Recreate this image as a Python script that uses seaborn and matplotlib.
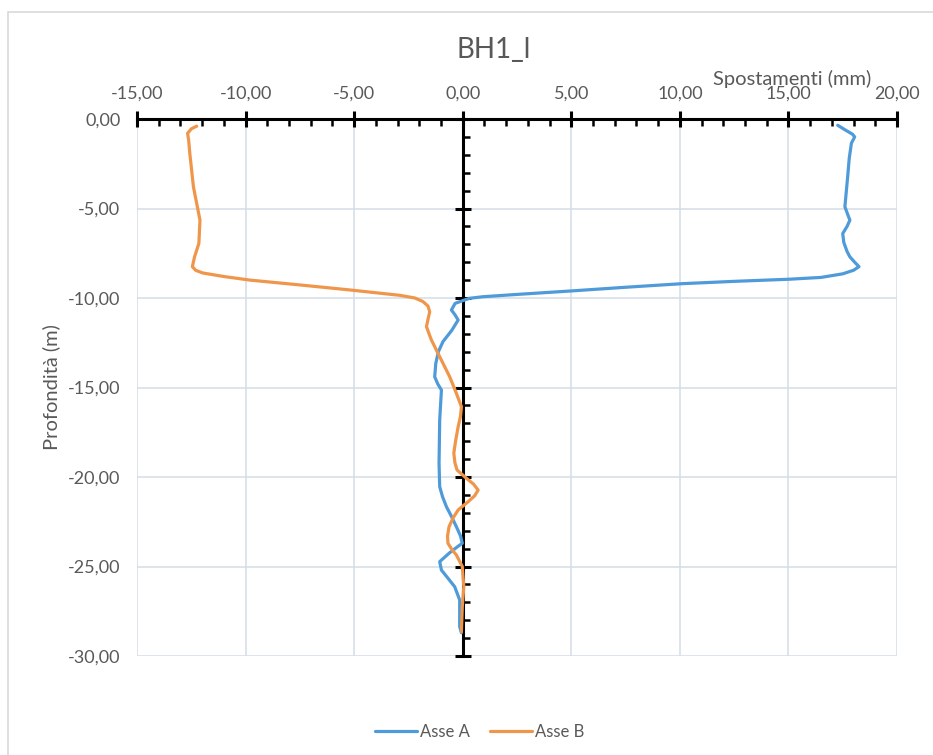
import numpy as np
import pandas as pd
import matplotlib
matplotlib.use("Agg")
import matplotlib.pyplot as plt
from matplotlib.patches import Rectangle
from matplotlib.ticker import MultipleLocator, FuncFormatter
import seaborn as sns

# Inclinometer profile BH1_l: displacement (mm) versus depth (m)
depth_a = [-0.35, -0.6, -0.85, -1.0, -1.35, -2.2, -3.2, -4.9, -5.3, -5.65, -6.0, -6.4,
           -6.9, -7.4, -7.7, -8.0, -8.25, -8.45, -8.65, -8.85, -8.95, -9.07, -9.2,
           -9.4, -9.6, -9.8, -9.93, -10.02, -10.11, -10.3, -10.67, -10.95, -11.23,
           -11.8, -12.44, -13.0, -13.65, -14.4, -14.8, -15.14, -16.82, -19.24,
           -20.54, -21.1, -21.66, -22.2, -22.78, -23.3, -23.7, -23.95, -24.23,
           -24.73, -25.2, -25.7, -26.13, -26.87, -28.36, -28.7]
asse_a = [17.27, 17.6, 17.95, 18.05, 17.9, 17.8, 17.73, 17.6, 17.72, 17.83, 17.7, 17.5,
          17.55, 17.7, 17.83, 18.05, 18.25, 18.0, 17.5, 16.5, 15.06, 12.5, 10.1,
          7.5, 5.07, 2.5, 0.92, 0.3, 0.09, -0.35, -0.52, -0.35, -0.21,
          -0.5, -0.91, -1.12, -1.24, -1.29, -1.15, -0.98, -1.06, -1.09,
          -1.06, -0.93, -0.75, -0.52, -0.29, -0.1, -0.02, -0.3, -0.6,
          -1.06, -0.98, -0.65, -0.37, -0.14, -0.14, -0.06]

depth_b = [-0.4, -0.55, -0.8, -1.2, -1.9, -3.8, -5.65, -6.95, -7.7, -8.25, -8.45, -8.6,
           -8.8, -9.0, -9.27, -9.55, -9.85, -10.0, -10.2, -10.45, -10.77, -11.2,
           -11.6, -12.0, -12.35, -13.28, -14.4, -15.3, -16.07, -16.6, -17.19,
           -18.0, -18.67, -19.2, -19.61, -20.07, -20.4, -20.73, -21.05, -21.38,
           -21.84, -22.3, -22.78, -23.3, -23.7, -24.05, -24.36, -25.0, -26.13,
           -27.25, -28.64]
asse_b = [-12.25, -12.5, -12.67, -12.62, -12.57, -12.4, -12.1, -12.15, -12.35, -12.45, -12.3, -11.98,
          -11.0, -9.8, -7.5, -5.2, -2.9, -2.2, -1.83, -1.6, -1.52, -1.6,
          -1.67, -1.55, -1.44, -1.06, -0.6, -0.3, -0.06, -0.1, -0.21,
          -0.33, -0.41, -0.36, -0.26, 0.17, 0.5, 0.71, 0.55, 0.25,
          -0.21, -0.45, -0.63, -0.7, -0.68, -0.5, -0.29, -0.02, 0.05,
          -0.02, -0.06]

series_names = ["Asse A", "Asse B"]
series_colors = ["#4f9bd9", "#f0964a"]

title = "BH1_l"
x_title = "Spostamenti (mm)"
y_title = "Profondità (m)"
x_limits = (-15, 20)
y_limits = (-30, 0)
major_step = 5
minor_step = 1

text_grey = "#595959"
grid_col = "#d5dde6"

sns.set_theme(style="white")
plt.rcParams["font.family"] = ["Lato", "DejaVu Sans"]
plt.rcParams["lines.solid_joinstyle"] = "round"
plt.rcParams["lines.solid_capstyle"] = "round"

fig = plt.figure(figsize=(9.33, 7.55), dpi=100)
W, H = 933, 755
ax = fig.add_axes([137 / W, 1 - 656 / H, 760 / W, 537 / H])

frames = []
for name, xs, ys in [(series_names[0], asse_a, depth_a), (series_names[1], asse_b, depth_b)]:
    frames.append(pd.DataFrame({"spost": xs, "prof": ys, "asse": name}))
data = pd.concat(frames, ignore_index=True)

sns.lineplot(data=data, x="spost", y="prof", hue="asse", palette=series_colors,
             sort=False, estimator=None, linewidth=2.3, ax=ax, legend=True, zorder=3)
handles, labels = ax.get_legend_handles_labels()
ax.get_legend().remove()

ax.set_xlim(*x_limits)
ax.set_ylim(*y_limits)

fmt = FuncFormatter(lambda v, p: f"{v:.2f}".replace(".", ","))

# horizontal axis along the top (depth 0)
ax.xaxis.tick_top()
ax.xaxis.set_major_locator(MultipleLocator(major_step))
ax.xaxis.set_minor_locator(MultipleLocator(minor_step))
ax.xaxis.set_major_formatter(fmt)
ax.tick_params(axis="x", which="major", direction="inout", length=12, width=2.2,
               color="black", pad=6.5, labelsize=13, labelcolor=text_grey)
ax.tick_params(axis="x", which="minor", direction="in", length=5, width=1.8,
               color="black")

# depth labels on the left edge
ax.yaxis.set_major_locator(MultipleLocator(major_step))
ax.yaxis.set_major_formatter(fmt)
ax.tick_params(axis="y", which="major", length=0, pad=12, labelsize=13,
               labelcolor=text_grey)

for side in ["left", "right", "bottom"]:
    ax.spines[side].set_visible(False)
ax.spines["top"].set_color("black")
ax.spines["top"].set_linewidth(2.2)

ax.grid(True, which="major", color=grid_col, linewidth=1.1)
ax.set_axisbelow(True)

# vertical axis crossing at zero displacement
zero_pos = (0 - x_limits[0]) / (x_limits[1] - x_limits[0])
sec = ax.secondary_yaxis(zero_pos)
sec.set_zorder(1)
sec.spines["left"].set_color("black")
sec.spines["left"].set_linewidth(2.2)
sec.yaxis.set_major_locator(MultipleLocator(major_step))
sec.yaxis.set_minor_locator(MultipleLocator(minor_step))
sec.tick_params(which="major", direction="inout", length=12, width=2.2, color="black",
                labelleft=False, labelright=False)
sec.tick_params(which="minor", direction="in", length=5, width=1.8, color="black",
                labelleft=False, labelright=False)

# axis titles
ax.set_xlabel(x_title, fontsize=14.5, color=text_grey)
ax.xaxis.set_label_coords((792 - 137) / 760, (656 - 79) / 537)
ax.xaxis.label.set_verticalalignment("center")
ax.set_ylabel(y_title, fontsize=14.5, color=text_grey)
ax.yaxis.set_label_coords((51 - 137) / 760, (656 - 387) / 537)
ax.yaxis.label.set_verticalalignment("center")

fig.text(494 / W, 1 - 50 / H, title, ha="center", va="center", fontsize=20,
         color=text_grey)

fig.legend(handles, labels, loc="center", bbox_to_anchor=(480 / W, 1 - 732 / H),
           ncol=2, frameon=False, fontsize=12, handlelength=2.5, handletextpad=0.2,
           columnspacing=1.2, labelcolor=text_grey)

# chart area border
fig.add_artist(Rectangle((8 / W, -0.1), 1.2, (H - 12) / H + 0.1,
                         transform=fig.transFigure, fill=False,
                         edgecolor="#d9d9d9", linewidth=1.2))

fig.savefig("out.png", dpi=100, facecolor="white")
